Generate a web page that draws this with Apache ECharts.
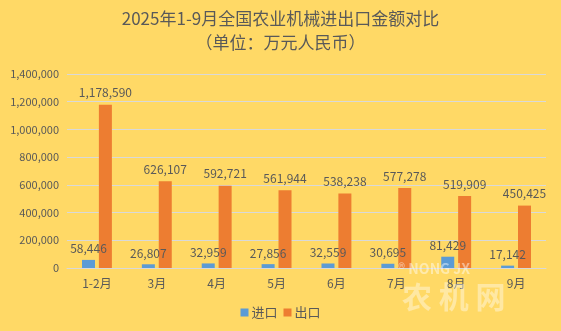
<!DOCTYPE html>
<html>
<head>
<meta charset="utf-8">
<script src="https://cdn.jsdelivr.net/npm/echarts@6/dist/echarts.min.js"></script>
<style>
html,body{margin:0;padding:0;background:#FFD966;}
#chart{width:561px;height:331px;}
</style>
</head>
<body>
<div id="chart"></div>
<script>
// 2025年1-9月全国农业机械进出口金额（万元人民币）
const months = ['1-2月', '3月', '4月', '5月', '6月', '7月', '8月', '9月'];
const importValues = [58446, 26807, 32959, 27856, 32559, 30695, 81429, 17142];
const exportValues = [1178590, 626107, 592721, 561944, 538238, 577278, 519909, 450425];
const seriesNames = ['进口', '出口'];

const textColor = '#595959';
const font = '"Noto Sans CJK SC", "Noto Sans", sans-serif';

const chart = echarts.init(document.getElementById('chart'));
const fmt = v => Number(v).toLocaleString('en-US');

chart.setOption({
  backgroundColor: '#FFD966',
  textStyle: { fontFamily: font, color: textColor },
  title: {
    text: '2025年1-9月全国农业机械进出口金额对比',
    subtext: '（单位：万元人民币）',
    left: 'center',
    top: 5,
    itemGap: 7,
    textStyle: { fontFamily: font, fontSize: 17, fontWeight: 'normal', color: textColor },
    subtextStyle: { fontFamily: font, fontSize: 17, color: textColor }
  },
  legend: {
    bottom: 7,
    left: 'center',
    itemWidth: 8,
    itemHeight: 8,
    itemGap: 6,
    icon: 'rect',
    textStyle: { fontFamily: font, fontSize: 13, color: textColor, padding: [0, 0, 0, -2] },
    data: seriesNames
  },
  grid: { left: 67, right: 15, top: 74, bottom: 63, containLabel: false },
  xAxis: {
    type: 'category',
    data: months,
    axisLine: { show: true, lineStyle: { color: '#D9D9D9', width: 1 } },
    axisTick: { show: false },
    axisLabel: { fontFamily: font, fontSize: 12, color: textColor, margin: 9 }
  },
  yAxis: {
    type: 'value',
    min: 0,
    max: 1400000,
    interval: 200000,
    axisLine: { show: false },
    axisTick: { show: false },
    splitLine: { lineStyle: { color: '#D9D9D9', width: 1 } },
    axisLabel: { fontFamily: font, fontSize: 11, color: textColor, margin: 8, formatter: fmt }
  },
  // faint site watermark in the lower right
  graphic: [
    {
      type: 'text', left: 398, top: 262, silent: true, z: 100,
      style: { text: '® NONG JX', fontFamily: font, fontSize: 14, fontWeight: 'bold', fill: 'rgba(255,255,255,0.45)' }
    },
    {
      type: 'text', left: 402, top: 282, silent: true, z: 100,
      style: { text: '农 机 网', fontFamily: font, fontSize: 30, fontWeight: 'bold', fill: 'rgba(255,255,255,0.4)' }
    }
  ],
  series: [
    {
      name: seriesNames[0],
      type: 'bar',
      data: importValues,
      barWidth: 13,
      barGap: '30%',
      itemStyle: { color: '#5B9BD5' },
      label: { show: true, position: 'top', distance: 5, fontFamily: font, fontSize: 12, color: textColor, formatter: p => fmt(p.value) }
    },
    {
      name: seriesNames[1],
      type: 'bar',
      data: exportValues,
      barWidth: 13,
      barGap: '30%',
      itemStyle: { color: '#ED7D31' },
      label: { show: true, position: 'top', distance: 6, fontFamily: font, fontSize: 12, color: textColor, formatter: p => fmt(p.value) }
    }
  ]
});
</script>
</body>
</html>
